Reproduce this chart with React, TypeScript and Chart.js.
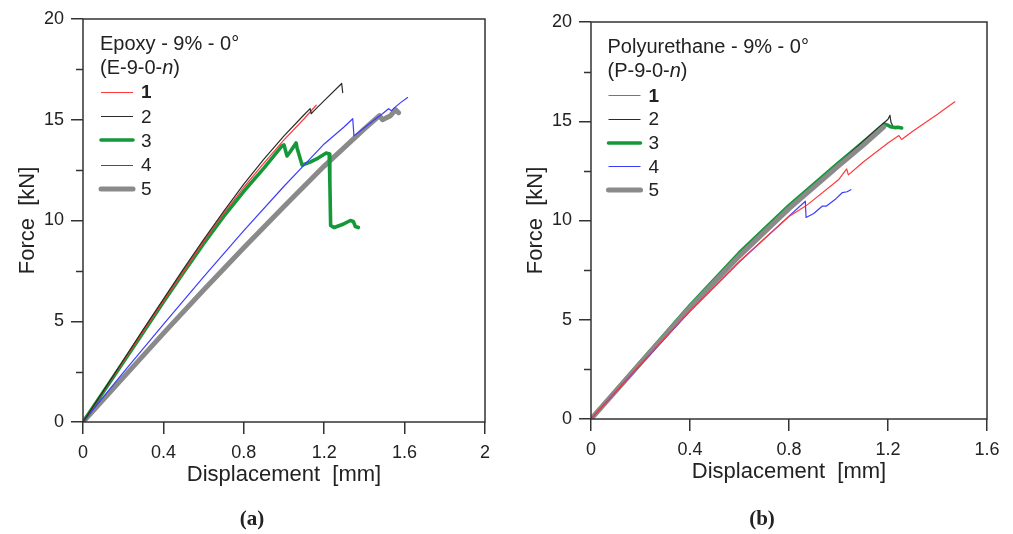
import React, { useEffect, useRef } from 'react';
import { Chart, registerables } from 'chart.js';

Chart.register(...registerables);

const SANS = '"Liberation Sans", Arial, sans-serif';
const INK = '#222222';

// ---- series appearance (specimens 1..5) ----
const seriesLabels = ['1', '2', '3', '4', '5'];
const seriesColors = ['#ff3a3a', '#2a2a2a', '#15983a', '#3c3cff', '#8a8a8a'];
const seriesWidths = [1.2, 1.2, 3.6, 1.2, 5];

// ---- (a) Epoxy - 9% - 0° ----
const epoxy1X = [0, 0.1, 0.2, 0.3, 0.4, 0.5, 0.6, 0.7, 0.8, 0.9, 1.0, 1.1, 1.16];
const epoxy1Y = [0, 1.5, 3.0, 4.5, 6.0, 7.45, 8.95, 10.35, 11.65, 12.85, 14.0, 15.05, 15.72];

const epoxy2X = [0, 0.1, 0.2, 0.3, 0.4, 0.5, 0.6, 0.7, 0.8, 0.9, 1.0, 1.1, 1.13, 1.135, 1.145, 1.2, 1.287, 1.292];
const epoxy2Y = [0, 1.52, 3.05, 4.6, 6.1, 7.6, 9.05, 10.45, 11.8, 13.05, 14.2, 15.25, 15.55, 15.3, 15.4, 15.95, 16.8, 16.35];

const epoxy3X = [0, 0.1, 0.2, 0.3, 0.4, 0.5, 0.6, 0.7, 0.8, 0.9, 0.99, 1.0, 1.015, 1.03, 1.06, 1.065, 1.09, 1.13, 1.17, 1.21, 1.225, 1.228, 1.232, 1.25, 1.29, 1.33, 1.345, 1.355, 1.37];
const epoxy3Y = [0, 1.48, 2.97, 4.45, 5.95, 7.42, 8.85, 10.2, 11.45, 12.6, 13.7, 13.75, 13.2, 13.4, 13.85, 13.6, 12.75, 12.9, 13.1, 13.35, 13.3, 12.0, 9.75, 9.65, 9.8, 10.0, 9.95, 9.7, 9.65];

const epoxy4X = [0, 0.2, 0.4, 0.6, 0.8, 1.0, 1.1, 1.2, 1.3, 1.342, 1.348, 1.4, 1.45, 1.49, 1.52, 1.535, 1.55, 1.58, 1.615];
const epoxy4Y = [0, 2.45, 4.85, 7.2, 9.5, 11.7, 12.75, 13.8, 14.65, 15.05, 14.2, 14.6, 15.0, 15.3, 15.55, 15.45, 15.6, 15.85, 16.1];

const epoxy5X = [0, 0.2, 0.4, 0.6, 0.8, 1.0, 1.2, 1.4, 1.475, 1.49, 1.51, 1.53, 1.555, 1.57];
const epoxy5Y = [0, 2.2, 4.4, 6.55, 8.65, 10.7, 12.7, 14.55, 15.2, 15.0, 15.1, 15.2, 15.5, 15.35];

// ---- (b) Polyurethane - 9% - 0° ----
const poly1X = [0, 0.2, 0.4, 0.6, 0.8, 0.87, 1.0, 1.033, 1.04, 1.1, 1.2, 1.244, 1.255, 1.3, 1.4, 1.47];
const poly1Y = [0, 2.75, 5.45, 7.95, 10.2, 10.75, 12.05, 12.6, 12.3, 12.95, 13.9, 14.28, 14.08, 14.5, 15.35, 15.98];

const poly2X = [0, 0.2, 0.4, 0.6, 0.8, 1.0, 1.1, 1.2, 1.208, 1.212, 1.218];
const poly2Y = [0, 2.82, 5.62, 8.22, 10.62, 12.85, 14.0, 15.1, 15.3, 14.95, 14.8];

const poly3X = [0, 0.2, 0.4, 0.6, 0.8, 1.0, 1.1, 1.184, 1.2, 1.21, 1.228, 1.24, 1.255];
const poly3Y = [0, 2.88, 5.72, 8.38, 10.75, 12.9, 13.95, 14.86, 14.8, 14.72, 14.68, 14.7, 14.66];

const poly4X = [0, 0.2, 0.4, 0.6, 0.8, 0.866, 0.869, 0.9, 0.935, 0.95, 0.99, 1.015, 1.035, 1.05];
const poly4Y = [0, 2.73, 5.42, 7.92, 10.22, 10.97, 10.15, 10.35, 10.73, 10.72, 11.1, 11.4, 11.45, 11.55];

const poly5X = [0, 0.2, 0.4, 0.6, 0.8, 1.0, 1.1, 1.183];
const poly5Y = [0, 2.82, 5.62, 8.22, 10.6, 12.75, 13.8, 14.72];

// ---- ticks & texts ----
const epoxyXTicks = [0, 0.4, 0.8, 1.2, 1.6, 2];
const epoxyXTickLabels = ['0', '0.4', '0.8', '1.2', '1.6', '2'];
const polyXTicks = [0, 0.4, 0.8, 1.2, 1.6];
const polyXTickLabels = ['0', '0.4', '0.8', '1.2', '1.6'];
const yTicks = [0, 5, 10, 15, 20];
const yTickLabels = ['0', '5', '10', '15', '20'];
const yMinorTicks = [2.5, 7.5, 12.5, 17.5];

const xTitle = 'Displacement  [mm]';
const yTitle = 'Force  [kN]';
const epoxyTitle = 'Epoxy - 9% - 0°';
const epoxyCode = ['(E-9-0-', 'n', ')'];
const polyTitle = 'Polyurethane - 9% - 0°';
const polyCode = ['(P-9-0-', 'n', ')'];

const zip = (xs: number[], ys: number[]) => xs.map((x, i) => ({ x, y: ys[i] }));

const framePlugin = {
  id: 'frame',
  afterDraw(chart: any) {
    const { ctx, chartArea: a } = chart;
    ctx.save();
    ctx.strokeStyle = '#333';
    ctx.lineWidth = 1.5;
    ctx.strokeRect(a.left, a.top, a.right - a.left, a.bottom - a.top);
    // minor ticks on the y axis
    const ys = chart.scales.y;
    ctx.lineWidth = 1.3;
    ctx.beginPath();
    yMinorTicks.forEach((v) => {
      const py = Math.round(ys.getPixelForValue(v)) + 0.5;
      ctx.moveTo(a.left - 7, py);
      ctx.lineTo(a.left, py);
    });
    ctx.stroke();
    ctx.restore();
  },
};

const insetLegendPlugin = {
  id: 'insetLegend',
  afterDraw(chart: any, _args: any, o: any) {
    const { ctx, chartArea: a } = chart;
    const x0 = a.left + o.dx;
    ctx.save();
    ctx.fillStyle = INK;
    ctx.textBaseline = 'middle';
    ctx.textAlign = 'left';
    ctx.font = `20px ${SANS}`;
    ctx.fillText(o.title, x0, a.top + o.y1);
    let x = x0;
    (o.code as string[]).forEach((t, i) => {
      ctx.font = `${i === 1 ? 'italic ' : ''}20px ${SANS}`;
      ctx.fillText(t, x, a.top + o.y2);
      x += ctx.measureText(t).width;
    });
    chart.data.datasets.forEach((ds: any, i: number) => {
      const y = a.top + o.itemY0 + i * o.itemStep;
      const ly = Math.round(y) + (ds.borderWidth < 2 ? 0.5 : 0);
      ctx.strokeStyle = ds.borderColor;
      ctx.lineWidth = ds.borderWidth < 2 ? 1 : ds.borderWidth;
      ctx.lineCap = ds.borderWidth < 2 ? 'butt' : 'round';
      ctx.beginPath();
      ctx.moveTo(x0 + 1, ly);
      ctx.lineTo(x0 + 33, ly);
      ctx.stroke();
      ctx.fillStyle = INK;
      ctx.font = `${i === 0 ? 'bold ' : ''}19px ${SANS}`;
      ctx.fillText(ds.label, x0 + 41, y + 1);
    });
    ctx.restore();
  },
};

interface Panel {
  series: [number[], number[]][];
  order: number[];
  xMax: number;
  xTicks: number[];
  xTickLabels: string[];
  padTop: number;
  padRight: number;
  yAxisWidth: number;
  xAxisHeight: number;
  xTitlePad: number;
  yTitlePad: number;
  legend: any;
}

function buildChart(canvas: HTMLCanvasElement, p: Panel) {
  const datasets = p.series.map((s, i) => ({
    label: seriesLabels[i],
    data: zip(s[0], s[1]),
    borderColor: seriesColors[i],
    backgroundColor: seriesColors[i],
    borderWidth: seriesWidths[i],
    pointRadius: 0,
    tension: 0,
    fill: false,
    order: p.order[i],
    borderJoinStyle: 'round',
    borderCapStyle: 'round',
  }));
  const grid = {
    display: true,
    drawOnChartArea: false,
    drawTicks: true,
    tickLength: 12,
    tickColor: '#333',
    tickWidth: 1.5,
    color: '#333',
    lineWidth: 1.5,
  };
  return new Chart(canvas, {
    type: 'line',
    data: { datasets } as any,
    options: {
      responsive: false,
      animation: false,
      devicePixelRatio: 1,
      events: [],
      layout: { padding: { left: 0, top: p.padTop, right: p.padRight, bottom: 0 } },
      plugins: {
        legend: { display: false },
        tooltip: { enabled: false },
        insetLegend: p.legend,
      } as any,
      scales: {
        x: {
          type: 'linear',
          min: 0,
          max: p.xMax,
          afterFit: (s: any) => { s.height = p.xAxisHeight; },
          afterBuildTicks: (s: any) => { s.ticks = p.xTicks.map((v) => ({ value: v })); },
          ticks: {
            autoSkip: false,
            maxRotation: 0,
            padding: 8,
            color: INK,
            font: { family: SANS, size: 18 },
            callback: (_v: any, i: number) => p.xTickLabels[i],
          },
          title: {
            display: true,
            text: xTitle,
            color: INK,
            font: { family: SANS, size: 22 },
            padding: { top: 0, bottom: p.xTitlePad },
          },
          grid,
          border: { display: false },
        },
        y: {
          type: 'linear',
          min: 0,
          max: 20,
          afterFit: (s: any) => { s.width = p.yAxisWidth; },
          afterBuildTicks: (s: any) => { s.ticks = yTicks.map((v) => ({ value: v })); },
          ticks: {
            autoSkip: false,
            padding: 7,
            color: INK,
            font: { family: SANS, size: 18 },
            callback: (_v: any, i: number) => yTickLabels[i],
          },
          title: {
            display: true,
            text: yTitle,
            color: INK,
            font: { family: SANS, size: 22 },
            padding: { top: p.yTitlePad, bottom: 0 },
          },
          grid,
          border: { display: false },
        },
      } as any,
    },
    plugins: [framePlugin, insetLegendPlugin],
  });
}

export default function App() {
  const leftRef = useRef<HTMLCanvasElement>(null);
  const rightRef = useRef<HTMLCanvasElement>(null);

  useEffect(() => {
    const a = buildChart(leftRef.current!, {
      series: [
        [epoxy1X, epoxy1Y],
        [epoxy2X, epoxy2Y],
        [epoxy3X, epoxy3Y],
        [epoxy4X, epoxy4Y],
        [epoxy5X, epoxy5Y],
      ],
      order: [2, 1, 4, 3, 5],
      xMax: 2,
      xTicks: epoxyXTicks,
      xTickLabels: epoxyXTickLabels,
      padTop: 19,
      padRight: 21,
      yAxisWidth: 83,
      xAxisHeight: 112,
      xTitlePad: 46,
      yTitlePad: 15,
      legend: { title: epoxyTitle, code: epoxyCode, dx: 17, y1: 25.5, y2: 49.4, itemY0: 73.2, itemStep: 24.1 },
    });
    const b = buildChart(rightRef.current!, {
      series: [
        [poly1X, poly1Y],
        [poly2X, poly2Y],
        [poly3X, poly3Y],
        [poly4X, poly4Y],
        [poly5X, poly5Y],
      ],
      order: [2, 5, 6, 3, 4],
      xMax: 1.6,
      xTicks: polyXTicks,
      xTickLabels: polyXTickLabels,
      padTop: 22,
      padRight: 26,
      yAxisWidth: 85,
      xAxisHeight: 115,
      xTitlePad: 49,
      yTitlePad: 17,
      legend: { title: polyTitle, code: polyCode, dx: 16.5, y1: 25.6, y2: 49.4, itemY0: 73.3, itemStep: 23.7 },
    });
    return () => {
      a.destroy();
      b.destroy();
    };
  }, []);

  const caption: React.CSSProperties = {
    position: 'absolute',
    top: 505,
    width: 100,
    textAlign: 'center',
    font: 'bold 21px "Liberation Serif", "Times New Roman", serif',
    lineHeight: '26px',
    color: '#222',
  };

  return (
    <div style={{ position: 'fixed', left: 0, top: 0, width: 1013, height: 534, background: '#fff', overflow: 'hidden' }}>
      <canvas ref={leftRef} width={506} height={534} style={{ position: 'absolute', left: 0, top: 0, width: 506, height: 534 }} />
      <canvas ref={rightRef} width={507} height={534} style={{ position: 'absolute', left: 506, top: 0, width: 507, height: 534 }} />
      <div style={{ ...caption, left: 202 }}>(a)</div>
      <div style={{ ...caption, left: 712 }}>(b)</div>
    </div>
  );
}
